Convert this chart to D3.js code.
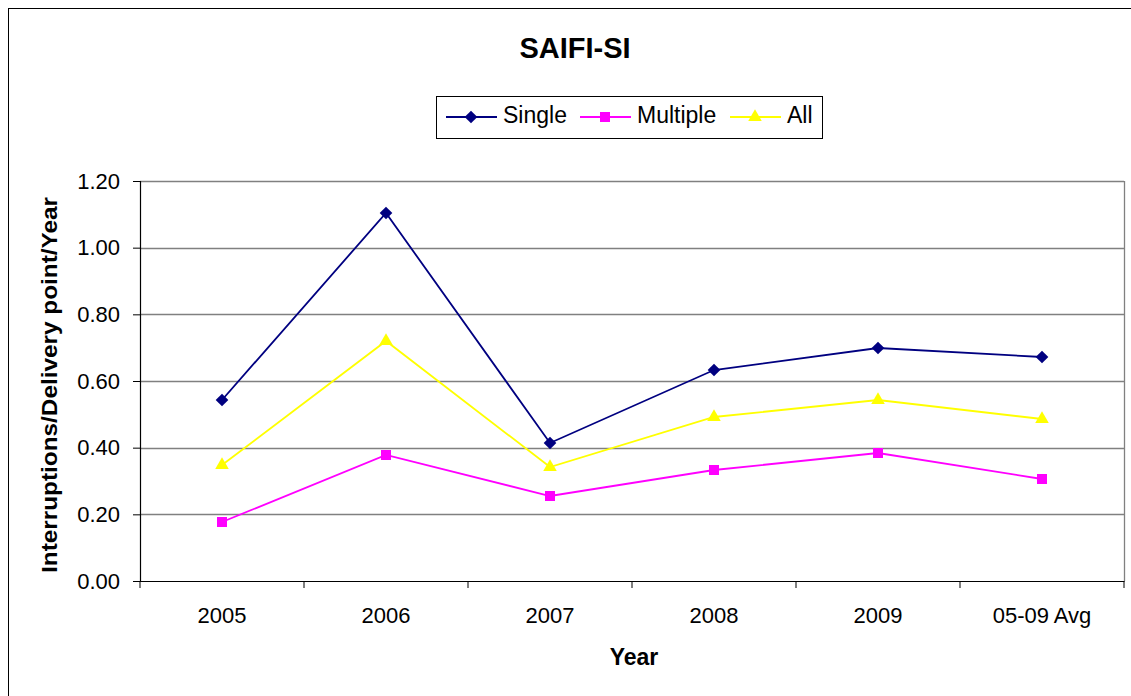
<!DOCTYPE html>
<html><head><meta charset="utf-8">
<script src="https://cdn.jsdelivr.net/npm/d3@7"></script>
<style>body{margin:0;background:#fff}text{font-family:"Liberation Sans",Arial,sans-serif}</style>
</head><body>
<svg id="c" width="1131" height="696"></svg>
<script>
const categories = ["2005","2006","2007","2008","2009","05-09 Avg"];
const single   = [0.543, 1.104, 0.414, 0.633, 0.699, 0.672];
const multiple = [0.177, 0.378, 0.255, 0.333, 0.384, 0.306];
const all      = [0.348, 0.720, 0.342, 0.492, 0.543, 0.486];
const yTicks = [0,0.2,0.4,0.6,0.8,1.0,1.2];
const series = [
  {name:"Single", values:single, color:"#000080", shape:"diamond"},
  {name:"Multiple", values:multiple, color:"#FF00FF", shape:"square"},
  {name:"All", values:all, color:"#FFFF00", shape:"triangle"}
];
const svg = d3.select("#c");
const L=140,R=1124,T=181,B=581;
svg.append("rect").attr("x",8.5).attr("y",8.5).attr("width",1140).attr("height",700).attr("fill","none").attr("stroke","#000");
const x = d3.scaleBand().domain(categories).range([L,R]);
const y = d3.scaleLinear().domain([0,1.2]).range([B,T]);
// grid
svg.append("g").selectAll("line").data(yTicks.slice(1)).join("line")
  .attr("x1",L).attr("x2",R).attr("y1",d=>Math.round(y(d))+0.5).attr("y2",d=>Math.round(y(d))+0.5)
  .attr("stroke","#808080").attr("stroke-width",1.3);
svg.append("line").attr("x1",R+0.5).attr("x2",R+0.5).attr("y1",T).attr("y2",B).attr("stroke","#808080").attr("stroke-width",1.3);
// axes
const ya = svg.append("g").attr("transform",`translate(${L},0)`)
  .call(d3.axisLeft(y).tickValues(yTicks).tickFormat(d3.format(".2f")).tickSize(7).tickPadding(13));
const xa = svg.append("g").attr("transform",`translate(0,${B})`)
  .call(d3.axisBottom(x).tickSize(0).tickPadding(26));
[ya,xa].forEach(a=>{a.selectAll("text").attr("font-size",22).attr("fill","#000").style("font-family","Liberation Sans, Arial, sans-serif");
  a.select(".domain").attr("stroke","#000").attr("stroke-width",1.2);a.selectAll(".tick line").attr("stroke","#000");});
// x tick marks at band boundaries
svg.append("g").selectAll("line").data(d3.range(categories.length+1)).join("line")
  .attr("x1",i=>L+i*x.step()).attr("x2",i=>L+i*x.step()).attr("y1",B).attr("y2",B+7).attr("stroke","#000");
// lines
const markerPath = {
  diamond: d3.symbol().type(d3.symbolSquare).size(80),
  square: d3.symbol().type(d3.symbolSquare).size(100),
  triangle: d3.symbol().type(d3.symbolTriangle).size(80)
};
const rot = {diamond:45, square:0, triangle:0};
series.forEach(s=>{
  const line = d3.line().x((d,i)=>x(categories[i])+x.bandwidth()/2).y(d=>y(d));
  svg.append("path").datum(s.values).attr("d",line).attr("fill","none").attr("stroke",s.color).attr("stroke-width",1.8);
  svg.append("g").selectAll("path").data(s.values).join("path")
    .attr("transform",(d,i)=>`translate(${x(categories[i])+x.bandwidth()/2},${y(d)}) rotate(${rot[s.shape]})`)
    .attr("d",markerPath[s.shape]()).attr("fill",s.color);
});
// title
svg.append("text").attr("x",575).attr("y",58).attr("text-anchor","middle").attr("font-size",29).attr("font-weight","bold").text("SAIFI-SI");
// axis titles
svg.append("text").attr("transform","translate(57,385) rotate(-90)").attr("text-anchor","middle").attr("font-size",22).attr("font-weight","bold")
  .attr("textLength",376).attr("lengthAdjust","spacingAndGlyphs").text("Interruptions/Delivery point/Year");
svg.append("text").attr("x",634).attr("y",665).attr("text-anchor","middle").attr("font-size",23).attr("font-weight","bold").text("Year");
// legend
const lg = svg.append("g");
lg.append("rect").attr("x",436.5).attr("y",96.5).attr("width",386).attr("height",42).attr("fill","#fff").attr("stroke","#000");
const lx=[446,580,730];
series.forEach((s,i)=>{
  lg.append("line").attr("x1",lx[i]).attr("x2",lx[i]+51).attr("y1",117).attr("y2",117).attr("stroke",s.color).attr("stroke-width",1.8);
  lg.append("path").attr("transform",`translate(${lx[i]+25},117) rotate(${rot[s.shape]})`).attr("d",markerPath[s.shape]()).attr("fill",s.color);
  lg.append("text").attr("x",lx[i]+57).attr("y",123).attr("font-size",23).text(s.name);
});
</script>
</body></html>
